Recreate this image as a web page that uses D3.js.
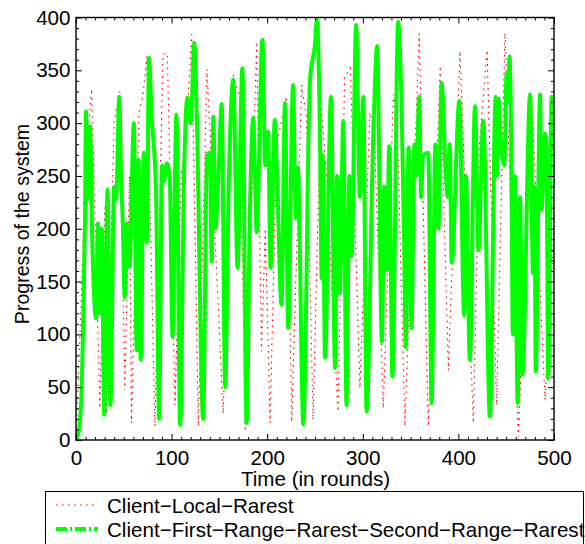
<!DOCTYPE html>
<html>
<head>
<meta charset="utf-8">
<script src="https://cdn.jsdelivr.net/npm/d3@7"></script>
<style>
  html, body { margin: 0; padding: 0; background: #fff; }
  svg { display: block; }
  text { font-family: "Liberation Sans", Arial, Helvetica, sans-serif; fill: #000; }
</style>
</head>
<body>
<svg id="chart" width="585" height="544"></svg>
<script>
// ---------------- data ----------------
const seriesNames = ["Client\u2212Local\u2212Rarest", "Client\u2212First\u2212Range\u2212Rarest\u2212Second\u2212Range\u2212Rarest"];

const roundsRed = [0,5,10,16.4,25,30,32,40,46,51,56,58,66,70,74,82.6,91,95.5,103.6,110,116,121,128,137,145,154,164.5,171.5,177,189,194,198,203,210,220,225.6,236,241,248,256,262,274,281,287,297,307.5,312,321.5,332,336,344,359,368.5,381,389.5,401.7,415.6,422,430,440,448.7,462.7,476.7,490.6,500];
const valuesRed = [0,120,260,332,30,220,25,302,330,47,250,16,311,325,363,13,365,366,33,250,300,384,13,351,200,25,346,322,8,377,84,200,16,280,325,17,336,306,19,323,250,27,343,352,49,310,290,30,327,300,13,385,13,354,66,368,16,280,369,33,385,3,322,38,201];

const roundsGreen = [0,2.4,4.2,6,7.6,9.4,10.5,12,14.6,17,21,23,25,27,29.5,33,36,40,42,45.3,47,49,51,53,56,60.5,63.5,65.5,67.7,71,74,76.4,79,83.7,87,90,92,95,98,101,105,109,113,116.5,120,123.7,126,133,137,140,142,143.6,146,149,152.4,156,160,164.5,169,174,178.5,182,185.5,187,189,195,198,201,203.5,208,210,215,218.6,222,227,230,232,237.8,244.8,250,252,255,257,258,260.5,266.7,271,273,276,279.6,283,286,288.4,293,297,300.5,304,311,315,320,322.5,325,327.7,331,337,343,345,348,351,354,356,359,361,363,368.5,372,376,379,382.5,384,386,389,391,393,401,406,408,412,417.4,421,426,433,439,440.5,442,444,448,450.5,452,453.5,455,457,459,462,464.5,467,475,478,479.5,481,485.4,487,490.6,492,494,497.6,500];
const valuesGreen = [0,6,18,50,114,208,311,228,297,190,115,205,120,200,24,237,33,240,228,325,253,205,135,205,164,300,85,265,76,272,187,362,310,235,20,260,245,262,250,98,308,14,250,324,300,376,320,20,270,272,169,306,200,250,318,50,250,341,163,352,16,220,305,260,197,379,260,292,163,303,260,128,319,106,336,210,258,15,341,375,398,300,153,270,78,325,68,250,139,302,33,250,174,393,230,325,27,290,373,93,240,161,278,60,396,200,88,277,106,280,250,325,230,270,272,35,280,200,338,320,268,230,280,168,321,118,250,76,316,180,302,22,325,250,323,290,260,347,320,363,300,100,250,35,230,62,327,158,240,65,327,218,290,285,58,325,275];

const xTicks = [0, 100, 200, 300, 400, 500];
const yTicks = [0, 50, 100, 150, 200, 250, 300, 350, 400];
const xTitle = "Time (in rounds)";
const yTitle = "Progress of the system";

// ---------------- layout ----------------
const L = 76, R = 554, T = 17.5, B = 440;
const FS = "20.6px";
const svg = d3.select("#chart");
const x = d3.scaleLinear().domain([0, 500]).range([L, R]);
const y = d3.scaleLinear().domain([0, 400]).range([B, T]);

svg.append("defs").append("clipPath").attr("id", "plotclip")
  .append("rect").attr("x", L).attr("y", T - 2).attr("width", R - L).attr("height", B - T + 2);

const plot = svg.append("g").attr("clip-path", "url(#plotclip)");

const red = roundsRed.map((r, i) => [r, valuesRed[i]]);
const green = roundsGreen.map((r, i) => [r, valuesGreen[i]]);

const lineLin = d3.line().x(d => x(d[0])).y(d => y(d[1]));
const lineSmooth = d3.line().x(d => x(d[0])).y(d => y(d[1])).curve(d3.curveMonotoneX);

plot.append("path").datum(red).attr("d", lineLin)
  .attr("fill", "none").attr("stroke", "#ff0000").attr("stroke-width", 1.1)
  .attr("stroke-dasharray", "1.6,4.4");

plot.append("path").datum(green).attr("d", lineSmooth)
  .attr("fill", "none").attr("stroke", "#00ff00").attr("stroke-width", 4)
  .attr("stroke-linejoin", "round");

// ---------------- axes ----------------
function styleAxis(g) {
  g.select(".domain").remove();
  g.selectAll(".tick line").attr("stroke", "#000").attr("stroke-width", 1);
  g.selectAll("text").style("font-size", FS).style("font-family", '"Liberation Sans", Arial, sans-serif');
}
const minorX = d3.range(0, 501, 10).filter(v => v % 100 !== 0);
const minorY = d3.range(0, 401, 10).filter(v => v % 50 !== 0);

// bottom
svg.append("g").attr("transform", `translate(0,${B})`)
  .call(d3.axisBottom(x).tickValues(xTicks).tickSizeInner(-6).tickSizeOuter(0).tickPadding(10.5).tickFormat(d3.format("d")))
  .call(styleAxis);
svg.append("g").attr("transform", `translate(0,${B})`)
  .call(d3.axisBottom(x).tickValues(minorX).tickSizeInner(-3).tickSizeOuter(0).tickFormat(""))
  .call(styleAxis);
// top
svg.append("g").attr("transform", `translate(0,${T})`)
  .call(d3.axisTop(x).tickValues(xTicks).tickSizeInner(-6).tickSizeOuter(0).tickFormat(""))
  .call(styleAxis);
svg.append("g").attr("transform", `translate(0,${T})`)
  .call(d3.axisTop(x).tickValues(minorX).tickSizeInner(-3).tickSizeOuter(0).tickFormat(""))
  .call(styleAxis);
// left
svg.append("g").attr("transform", `translate(${L},0)`)
  .call(d3.axisLeft(y).tickValues(yTicks).tickSizeInner(-6).tickSizeOuter(0).tickPadding(5.5).tickFormat(d3.format("d")))
  .call(styleAxis);
svg.append("g").attr("transform", `translate(${L},0)`)
  .call(d3.axisLeft(y).tickValues(minorY).tickSizeInner(-3).tickSizeOuter(0).tickFormat(""))
  .call(styleAxis);
// right
svg.append("g").attr("transform", `translate(${R},0)`)
  .call(d3.axisRight(y).tickValues(yTicks).tickSizeInner(-6).tickSizeOuter(0).tickFormat(""))
  .call(styleAxis);
svg.append("g").attr("transform", `translate(${R},0)`)
  .call(d3.axisRight(y).tickValues(minorY).tickSizeInner(-3).tickSizeOuter(0).tickFormat(""))
  .call(styleAxis);

// frame
svg.append("rect").attr("x", L).attr("y", T).attr("width", R - L).attr("height", B - T)
  .attr("fill", "none").attr("stroke", "#000").attr("stroke-width", 1.4);

// titles
svg.append("text").attr("x", 315.5).attr("y", 486).attr("text-anchor", "middle")
  .style("font-size", FS).text(xTitle);
svg.append("text").attr("transform", `translate(29,224) rotate(-90)`)
  .attr("text-anchor", "middle").style("font-size", "19.6px").text(yTitle);

// ---------------- legend ----------------
const lg = svg.append("g");
lg.append("rect").attr("x", 45.5).attr("y", 491.5).attr("width", 538).attr("height", 80)
  .attr("fill", "#fff").attr("stroke", "#000").attr("stroke-width", 1);
const legendY = [505, 529];
lg.append("line").attr("x1", 56).attr("x2", 98).attr("y1", legendY[0]).attr("y2", legendY[0])
  .attr("stroke", "#ff0000").attr("stroke-width", 1.1).attr("stroke-dasharray", "1.6,4.4");
lg.append("line").attr("x1", 56).attr("x2", 98).attr("y1", legendY[1]).attr("y2", legendY[1])
  .attr("stroke", "#00ff00").attr("stroke-width", 4).attr("stroke-dasharray", "11,3,2,3");
seriesNames.forEach((n, i) => {
  lg.append("text").attr("x", 107).attr("y", legendY[i] + 7.5).style("font-size", FS).text(n);
});
</script>
</body>
</html>
